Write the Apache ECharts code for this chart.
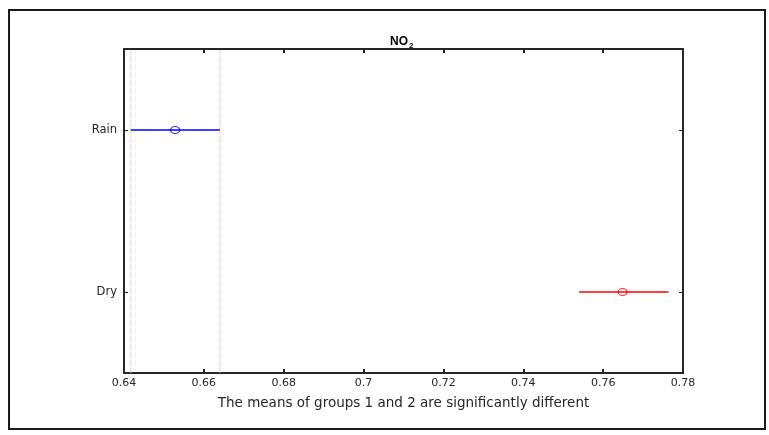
<!DOCTYPE html>
<html>
<head>
<meta charset="utf-8">
<script src="https://cdn.jsdelivr.net/npm/echarts@6/dist/echarts.min.js"></script>
<style>
html,body{margin:0;padding:0;background:#fff;}
#c{width:769px;height:435px;}
</style>
</head>
<body>
<div id="c"></div>
<script>
const groups = ['Rain', 'Dry'];
const means = [0.6528, 0.7649];
const lower = [0.6417, 0.7540];
const upper = [0.6640, 0.7764];
const colors = ['#0000ff', '#ff0000'];
const xTicks = [0.64, 0.66, 0.68, 0.70, 0.72, 0.74, 0.76, 0.78];
const xLabel = 'The means of groups 1 and 2 are significantly different';

const axisColor = '#262626';
const font = 'DejaVu Sans, Verdana, sans-serif';
const series = [];
// dotted reference lines at the bounds of the first group's interval
[lower[0], upper[0]].forEach(v => {
  series.push({
    type: 'line',
    xAxisIndex: 0,
    yAxisIndex: 2,
    data: [[v, 0], [v, 1]],
    symbol: 'none',
    lineStyle: { type: 'dotted', color: '#c4c4c4', width: 1 },
    silent: true,
    z: 1
  });
});
groups.forEach((g, i) => {
  series.push({
    type: 'line',
    data: [[lower[i], g], [upper[i], g]],
    symbol: 'none',
    lineStyle: { color: colors[i], width: 1.4 },
    silent: true,
    z: 3
  });
  series.push({
    type: 'scatter',
    data: [[means[i], g]],
    symbol: 'circle',
    symbolSize: [9, 7],
    itemStyle: { color: 'rgba(0,0,0,0)', borderColor: colors[i], borderWidth: 1.2 },
    silent: true,
    z: 4
  });
});

const chart = echarts.init(document.getElementById('c'));
chart.setOption({
  animation: false,
  backgroundColor: '#fff',
  title: {
    text: '{a|NO}{b|2}',
    left: 385,
    top: 29,
    textStyle: {
      rich: {
        a: { fontFamily: 'Liberation Sans, Arial', fontWeight: 'bold', fontSize: 12, color: '#000' },
        b: { fontFamily: 'Liberation Sans, Arial', fontWeight: 'bold', fontSize: 8, color: '#000', padding: [8, 0, 0, 1] }
      }
    }
  },
  graphic: [{
    type: 'rect',
    shape: { x: 9, y: 10, width: 756, height: 419 },
    style: { fill: 'none', stroke: '#1a1a1a', lineWidth: 2 },
    silent: true
  }],
  grid: { left: 124, top: 49, width: 559, height: 324, containLabel: false },
  xAxis: [{
    type: 'value',
    min: xTicks[0],
    max: xTicks[xTicks.length - 1],
    interval: 0.02,
    position: 'bottom',
    name: xLabel,
    nameLocation: 'middle',
    nameGap: 23,
    nameTextStyle: { fontFamily: font, fontSize: 13.5, color: axisColor },
    axisLine: { show: true, lineStyle: { color: axisColor, width: 2 } },
    axisTick: { show: true, inside: true, length: 4, lineStyle: { color: axisColor, width: 2 } },
    axisLabel: {
      fontFamily: font, fontSize: 11, color: axisColor, margin: 5,
      formatter: v => String(parseFloat(v.toFixed(2)))
    },
    splitLine: { show: false }
  }, {
    type: 'value',
    min: xTicks[0],
    max: xTicks[xTicks.length - 1],
    interval: 0.02,
    position: 'top',
    axisLine: { show: true, lineStyle: { color: axisColor, width: 2 } },
    axisTick: { show: true, inside: true, length: 4, lineStyle: { color: axisColor, width: 2 } },
    axisLabel: { show: false },
    splitLine: { show: false }
  }],
  yAxis: [{
    type: 'category',
    data: groups,
    inverse: true,
    position: 'left',
    axisLine: { show: true, lineStyle: { color: axisColor, width: 2 } },
    axisTick: { show: true, inside: true, alignWithLabel: true, length: 4, lineStyle: { color: axisColor, width: 1 } },
    axisLabel: { fontFamily: font, fontSize: 11.5, color: axisColor, margin: 7 },
    splitLine: { show: false }
  }, {
    type: 'category',
    data: groups,
    inverse: true,
    position: 'right',
    axisLine: { show: true, lineStyle: { color: axisColor, width: 2 } },
    axisTick: { show: true, inside: true, alignWithLabel: true, length: 4, lineStyle: { color: axisColor, width: 1 } },
    axisLabel: { show: false },
    splitLine: { show: false }
  }, {
    type: 'value',
    min: 0,
    max: 1,
    show: false
  }],
  series: series
});
</script>
</body>
</html>
